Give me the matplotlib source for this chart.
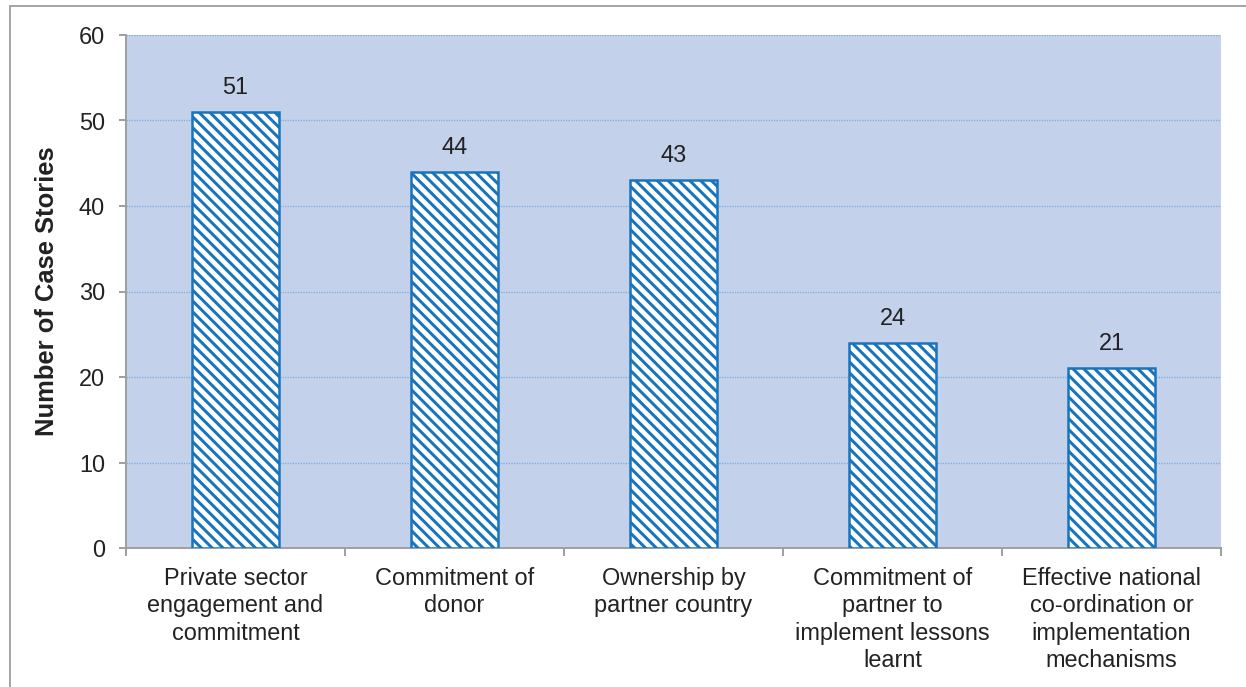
import matplotlib.pyplot as plt
from matplotlib.patches import Rectangle

# data
categories = ["Private sector\nengagement and\ncommitment",
              "Commitment of\ndonor",
              "Ownership by\npartner country",
              "Commitment of\npartner to\nimplement lessons\nlearnt",
              "Effective national\nco-ordination or\nimplementation\nmechanisms"]
values = [51, 44, 43, 24, 21]
y_ticks = [0, 10, 20, 30, 40, 50, 60]

DPI = 130
W, H = 1246, 687

def px(p):
    # pixels -> points
    return p * 72.0 / DPI

plt.rcParams['font.family'] = ['Liberation Sans', 'DejaVu Sans']
plt.rcParams['hatch.color'] = '#1874BC'
plt.rcParams['hatch.linewidth'] = px(3.0)

fig = plt.figure(figsize=(W / DPI, H / DPI), dpi=DPI)
ax = fig.add_axes([126 / W, 1 - 548 / H, (1221 - 126) / W, (548 - 35) / H])

# outer frame of the chart area
fig.patches.append(Rectangle((10 / W, -0.1), 1.2, 1 - 6 / H + 0.1,
                             transform=fig.transFigure, fill=False,
                             edgecolor='#A6A6A6', linewidth=px(2)))

ax.set_facecolor('#C3D1EA')
x = range(len(values))
bars = ax.bar(x, values, width=0.40, color='white', edgecolor='#1874BC',
              linewidth=px(2.5), hatch=chr(92) * 4, zorder=3)

for xi, v in zip(x, values):
    ax.annotate(str(v), (xi, v), xytext=(0, px(13)), textcoords='offset points',
                ha='center', va='bottom', fontsize=px(23.5), color='#222222')

ax.set_xlim(-0.5, len(values) - 0.5)
ax.set_ylim(0, 60)
ax.set_yticks(y_ticks)
ax.set_yticklabels([str(t) for t in y_ticks])
ax.yaxis.grid(True, linestyle=(0, (1, 1)), color='#7FAADC', linewidth=px(1.3), zorder=1)
ax.set_axisbelow(True)

# category labels centred, ticks between categories
ax.set_xticks([i - 0.5 for i in range(len(values) + 1)])
ax.set_xticklabels([])
ax.set_xticks(list(x), minor=True)
ax.set_xticklabels(categories, minor=True, fontsize=px(23.5), color='#222222',
                   linespacing=1.24, va='top')
ax.tick_params(axis='x', which='minor', length=0, pad=px(19))
ax.tick_params(axis='x', which='major', length=px(8), width=px(2), color='#A0A0A0', direction='out')
ax.tick_params(axis='y', length=px(7), width=px(2), color='#A0A0A0', pad=px(14),
               labelsize=px(23.5), labelcolor='#222222')

for s in ['top', 'right']:
    ax.spines[s].set_visible(False)
for s in ['left', 'bottom']:
    ax.spines[s].set_color('#A0A0A0')
    ax.spines[s].set_linewidth(px(2))

ax.set_ylabel('Number of Case Stories', fontsize=px(25.5), fontweight='bold',
              color='#222222', labelpad=px(20))

fig.savefig('out.png', dpi=DPI)
